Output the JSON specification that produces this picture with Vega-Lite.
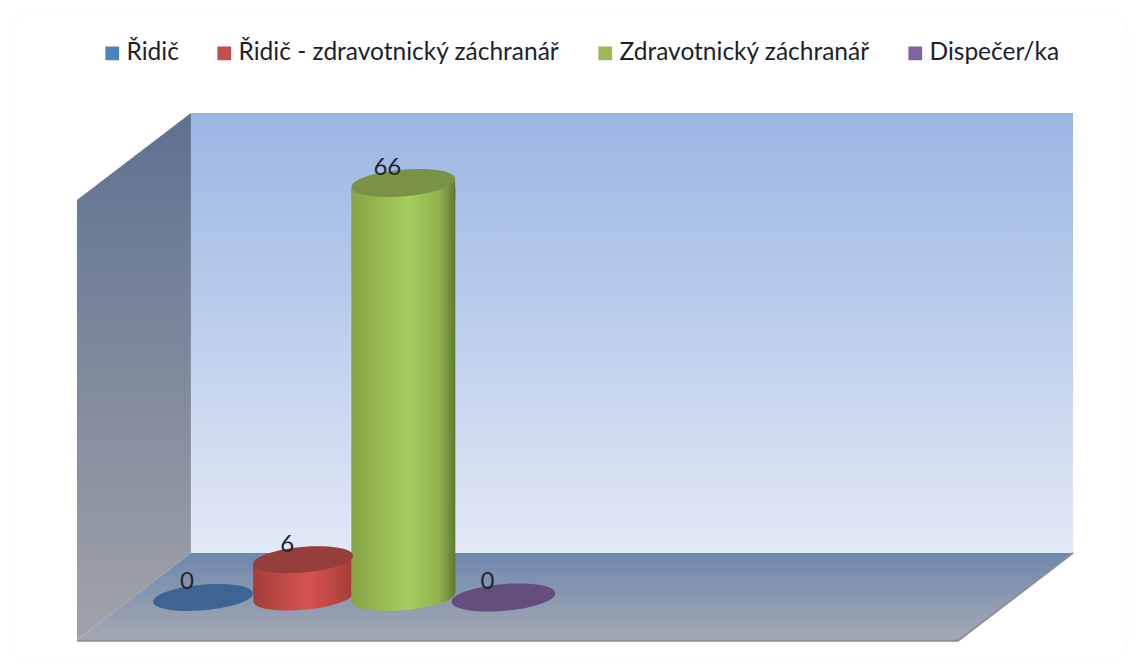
{
  "$schema": "https://vega.github.io/schema/vega-lite/v6.json",
  "autosize": {"type": "none"},
  "width": 1135,
  "height": 669,
  "padding": 0,
  "background": "white",
  "config": {"view": {"stroke": null}, "font": "Lato"},
  "data": {"values": [
    {"serie": "Řidič", "x": 0, "y": 0},
    {"serie": "Řidič - zdravotnický záchranář", "x": 1, "y": 6},
    {"serie": "Zdravotnický záchranář", "x": 2, "y": 66},
    {"serie": "Dispečer/ka", "x": 3, "y": 0}
  ]},
  "encoding": {
    "x": {"field": "x", "type": "quantitative", "axis": null, "scale": {"domain": [-2.026, 9.304], "nice": false, "zero": false, "padding": 0}},
    "y": {"field": "y", "type": "quantitative", "axis": null, "scale": {"domain": [-11.385, 95.14], "nice": false, "zero": false}}
  },
  "layer": [
    {
      "data": {"values": [{"x": -1.927, "x2": 9.234, "y": 93.2, "y2": -10.27}]},
      "mark": {"type": "rect", "fill": "white", "stroke": "#fafafa", "strokeWidth": 1, "cornerRadius": 22},
      "encoding": {"x2": {"field": "x2"}, "y2": {"field": "y2"}}
    },
    {
      "data": {"values": [{"x": -0.12, "x2": 8.685, "y": 77.15, "y2": 7.09}]},
      "mark": {"type": "rect", "fill": {"x1": 0, "y1": 0, "x2": 0, "y2": 1, "gradient": "linear", "stops": [{"offset": 0, "color": "#9bb5e3"}, {"offset": 1, "color": "#e2e9f6"}]}},
      "encoding": {"x2": {"field": "x2"}, "y2": {"field": "y2"}}
    },
    {
      "data": {"values": [{"x": -1.258, "y": 63.3, "y2": -6.77}, {"x": -0.12, "y": 77.15, "y2": 7.09}]},
      "mark": {"type": "area", "fill": {"x1": 0, "y1": 0, "x2": 0, "y2": 1, "gradient": "linear", "stops": [{"offset": 0, "color": "#5f7191"}, {"offset": 1, "color": "#a0a3a9"}]}},
      "encoding": {"y2": {"field": "y2"}}
    },
    {
      "data": {"values": [{"y": 7.09, "x": -0.12, "x2": 8.685}, {"y": -6.77, "x": -1.258, "x2": 7.537}]},
      "mark": {"type": "area", "orient": "horizontal", "fill": {"x1": 0, "y1": 0, "x2": 0, "y2": 1, "gradient": "linear", "stops": [{"offset": 0, "color": "#6f88ae"}, {"offset": 1, "color": "#a4a8b3"}]}},
      "encoding": {"x2": {"field": "x2"}}
    },
    {
      "data": {"values": [{"x": -1.258, "y": -6.9}, {"x": 7.537, "y": -6.9}, {"x": 8.685, "y": 7.09}]},
      "mark": {"type": "line", "color": "#8b8f95", "strokeWidth": 2}
    },
    {
      "transform": [{"filter": "datum.x === 1"}],
      "mark": {"type": "point", "filled": true, "opacity": 1, "size": 10000, "shape": "M-1,-0.2 L-0.996,0.087 A1,0.25 -5 0 0 0.996,-0.087 L1,-0.2 Z", "fill": {"x1": 0, "y1": 0, "x2": 1, "y2": 0, "gradient": "linear", "stops": [{"offset": 0, "color": "#a53d3a"}, {"offset": 0.55, "color": "#d6544f"}, {"offset": 1, "color": "#a53d3a"}]}},
      "encoding": {
        "y": {"datum": 0, "type": "quantitative", "axis": null, "scale": {"domain": [-11.385, 95.14], "nice": false, "zero": false}}
      }
    },
    {
      "transform": [{"filter": "datum.x === 1"}],
      "mark": {"type": "point", "filled": true, "opacity": 1, "size": 10000, "shape": "M-0.996,0.087 L-1,0.3 L1,0.3 L0.996,-0.087 Z", "fill": {"x1": 0, "y1": 0, "x2": 1, "y2": 0, "gradient": "linear", "stops": [{"offset": 0, "color": "#a53d3a"}, {"offset": 0.55, "color": "#d6544f"}, {"offset": 1, "color": "#a53d3a"}]}}
    },
    {
      "transform": [{"filter": "datum.x === 1"}],
      "mark": {"type": "bar", "width": 100, "yOffset": 5, "y2Offset": -5, "fill": {"x1": 0, "y1": 0, "x2": 1, "y2": 0, "gradient": "linear", "stops": [{"offset": 0, "color": "#a53d3a"}, {"offset": 0.55, "color": "#d6544f"}, {"offset": 1, "color": "#a53d3a"}]}},
      "encoding": {"y2": {"datum": 0}}
    },
    {
      "transform": [{"filter": "datum.x === 2"}],
      "mark": {"type": "point", "filled": true, "opacity": 1, "size": 10816, "shape": "M-1,-0.2 L-0.996,0.087 A1,0.25 -5 0 0 0.996,-0.087 L1,-0.2 Z", "fill": {"x1": 0, "y1": 0, "x2": 1, "y2": 0, "gradient": "linear", "stops": [{"offset": 0, "color": "#86a544"}, {"offset": 0.55, "color": "#a7cd5f"}, {"offset": 0.85, "color": "#8fb04e"}, {"offset": 1, "color": "#5f7a30"}]}},
      "encoding": {
        "y": {"datum": 0, "type": "quantitative", "axis": null, "scale": {"domain": [-11.385, 95.14], "nice": false, "zero": false}}
      }
    },
    {
      "transform": [{"filter": "datum.x === 2"}],
      "mark": {"type": "point", "filled": true, "opacity": 1, "size": 10816, "shape": "M-0.996,0.087 L-1,0.3 L1,0.3 L0.996,-0.087 Z", "fill": {"x1": 0, "y1": 0, "x2": 1, "y2": 0, "gradient": "linear", "stops": [{"offset": 0, "color": "#86a544"}, {"offset": 0.55, "color": "#a7cd5f"}, {"offset": 0.85, "color": "#8fb04e"}, {"offset": 1, "color": "#5f7a30"}]}}
    },
    {
      "transform": [{"filter": "datum.x === 2"}],
      "mark": {"type": "bar", "width": 104, "yOffset": 5, "y2Offset": -5, "fill": {"x1": 0, "y1": 0, "x2": 1, "y2": 0, "gradient": "linear", "stops": [{"offset": 0, "color": "#86a544"}, {"offset": 0.55, "color": "#a7cd5f"}, {"offset": 0.85, "color": "#8fb04e"}, {"offset": 1, "color": "#5f7a30"}]}},
      "encoding": {"y2": {"datum": 0}}
    },
    {
      "transform": [{"filter": "datum.x < 2"}],
      "mark": {"type": "point", "filled": true, "opacity": 1, "size": 10000, "shape": "M-0.996,0.087 A1,0.25 -5 1 1 0.996,-0.087 A1,0.25 -5 1 1 -0.996,0.087 Z"},
      "encoding": {
        "color": {
          "field": "serie",
          "type": "nominal",
          "scale": {"domain": ["Řidič", "Řidič - zdravotnický záchranář", "Zdravotnický záchranář", "Dispečer/ka"], "range": ["#4f81bd", "#c0504d", "#9bbb59", "#8064a2"]},
          "legend": {"title": null, "orient": "none", "legendX": 100, "legendY": 41, "direction": "horizontal", "columns": 4, "columnPadding": 33, "symbolType": "square", "symbolSize": 190, "symbolStrokeWidth": 0, "symbolOpacity": 1, "labelFont": "Lato", "labelFontSize": 24.5, "labelColor": "#1c1f2a", "labelOffset": 2, "labelLimit": 500}
        }
      }
    },
    {
      "transform": [{"filter": "datum.x >= 2"}],
      "mark": {"type": "point", "filled": true, "opacity": 1, "size": 10816, "shape": "M-0.996,0.087 A1,0.25 -5 1 1 0.996,-0.087 A1,0.25 -5 1 1 -0.996,0.087 Z"},
      "encoding": {
        "color": {"field": "serie", "type": "nominal"}
      }
    },
    {
      "transform": [{"filter": "datum.x < 2"}],
      "mark": {"type": "point", "filled": true, "fill": "black", "opacity": 0.22, "size": 10000, "shape": "M-0.996,0.087 A1,0.25 -5 1 1 0.996,-0.087 A1,0.25 -5 1 1 -0.996,0.087 Z"}
    },
    {
      "transform": [{"filter": "datum.x >= 2"}],
      "mark": {"type": "point", "filled": true, "fill": "black", "opacity": 0.22, "size": 10816, "shape": "M-0.996,0.087 A1,0.25 -5 1 1 0.996,-0.087 A1,0.25 -5 1 1 -0.996,0.087 Z"}
    },
    {
      "mark": {"type": "text", "font": "Lato", "fontSize": 24, "color": "#1f2533", "dx": -16, "dy": -15, "baseline": "middle"},
      "encoding": {"text": {"field": "y", "type": "quantitative"}}
    }
  ]
}
